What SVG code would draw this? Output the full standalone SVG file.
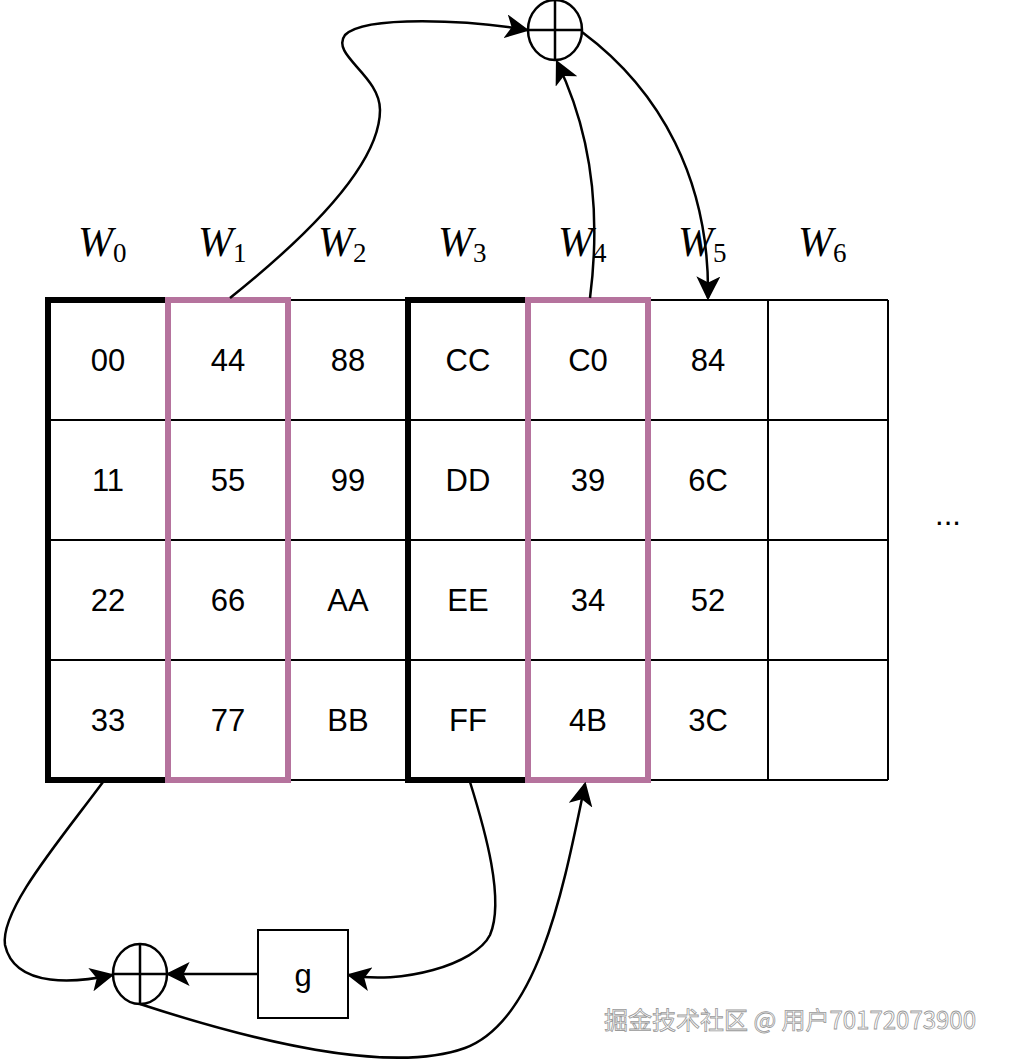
<svg xmlns="http://www.w3.org/2000/svg" width="1011" height="1062" viewBox="0 0 1011 1062">
<style>
.thin{fill:none;stroke:#000;stroke-width:2}
.blk{fill:none;stroke:#000;stroke-width:6}
.pur{fill:none;stroke:#B5739D;stroke-width:6}
.num{font-family:"Liberation Sans",Arial,sans-serif;font-size:31px;text-anchor:middle;fill:#000}
.w{font-family:"Liberation Serif","DejaVu Serif",serif;font-size:42px;font-style:italic;fill:#000}
.sub{font-style:normal;font-size:27px}
.c{fill:none;stroke:#000;stroke-width:2.5}
</style>
<defs>
<marker id="a" viewBox="0 0 20 20" refX="18" refY="10" markerWidth="24" markerHeight="24" markerUnits="userSpaceOnUse" orient="auto">
<path d="M0,0 L20,10 L0,20 L5,10 Z" fill="#000"/>
</marker>
</defs>
<rect width="1011" height="1062" fill="#fff"/>
<g id="labels">
<text class="w" x="78" y="256">W<tspan class="sub" dy="6">0</tspan></text>
<text class="w" x="198" y="256">W<tspan class="sub" dy="6">1</tspan></text>
<text class="w" x="318" y="256">W<tspan class="sub" dy="6">2</tspan></text>
<text class="w" x="438" y="256">W<tspan class="sub" dy="6">3</tspan></text>
<text class="w" x="558" y="256">W<tspan class="sub" dy="6">4</tspan></text>
<text class="w" x="678" y="256">W<tspan class="sub" dy="6">5</tspan></text>
<text class="w" x="798" y="256">W<tspan class="sub" dy="6">6</tspan></text>
</g>
<g id="grid">
<path class="thin" d="M48,300H888M48,420H888M48,540H888M48,660H888M48,780H888M288,300V780M408,300V780M648,300V780M768,300V780M888,300V780M168,300V780"/>
<rect class="blk" x="48" y="300" width="120" height="480"/>
<rect class="blk" x="408" y="300" width="120" height="480"/>
<rect class="pur" x="168" y="300" width="120" height="480"/>
<rect class="pur" x="528" y="300" width="120" height="480"/>
</g>
<g id="cells">
<text class="num" x="108" y="371">00</text><text class="num" x="228" y="371">44</text><text class="num" x="348" y="371">88</text><text class="num" x="468" y="371">CC</text><text class="num" x="588" y="371">C0</text><text class="num" x="708" y="371">84</text>
<text class="num" x="108" y="491">11</text><text class="num" x="228" y="491">55</text><text class="num" x="348" y="491">99</text><text class="num" x="468" y="491">DD</text><text class="num" x="588" y="491">39</text><text class="num" x="708" y="491">6C</text>
<text class="num" x="108" y="611">22</text><text class="num" x="228" y="611">66</text><text class="num" x="348" y="611">AA</text><text class="num" x="468" y="611">EE</text><text class="num" x="588" y="611">34</text><text class="num" x="708" y="611">52</text>
<text class="num" x="108" y="731">33</text><text class="num" x="228" y="731">77</text><text class="num" x="348" y="731">BB</text><text class="num" x="468" y="731">FF</text><text class="num" x="588" y="731">4B</text><text class="num" x="708" y="731">3C</text>
<text class="num" x="948" y="525">...</text>
</g>
<g id="xor-top">
<ellipse class="c" cx="555" cy="30" rx="27" ry="30"/>
<path class="c" d="M528,30H582M555,0V60"/>
</g>
<g id="xor-bottom">
<ellipse class="c" cx="140" cy="974" rx="27" ry="30"/>
<path class="c" d="M113,974H167M140,944V1004"/>
</g>
<g id="g-box">
<rect x="258" y="930" width="90" height="88" fill="#fff" stroke="#000" stroke-width="2"/>
<text class="num" x="303" y="986">g</text>
</g>
<g id="connectors">
<path class="c" marker-end="url(#a)" d="M230,298 C290,250 380,170 380,110 C380,75 330,55 345,35 C365,15 470,20 527,30"/>
<path class="c" marker-end="url(#a)" d="M590,298 C600,220 595,140 557,62"/>
<path class="c" marker-end="url(#a)" d="M582,32 C660,90 710,180 708,298"/>
<path class="c" marker-end="url(#a)" d="M103,782 C60,840 0,910 5,945 C15,990 80,982 112,975"/>
<path class="c" marker-end="url(#a)" d="M470,782 C485,830 505,900 490,935 C475,965 400,985 349,975"/>
<path class="c" marker-end="url(#a)" d="M258,974 H168"/>
<path class="c" marker-end="url(#a)" d="M140,1004 C250,1040 390,1075 465,1048 C540,1020 565,880 585,784"/>
</g>
<text x="790" y="1029" font-family="'Noto Sans CJK SC',sans-serif" font-size="24" fill="#fff" stroke="#999" stroke-width="0.8" text-anchor="middle">掘金技术社区 @ 用户70172073900</text>
</svg>
